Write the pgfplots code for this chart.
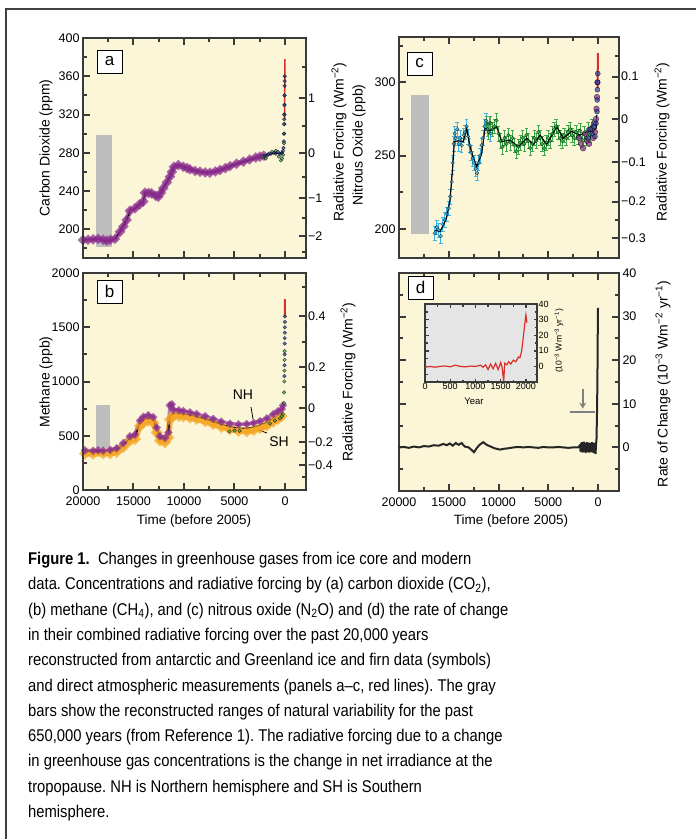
\documentclass[border=0pt]{standalone}
\usepackage{fontspec}
\setmainfont{Liberation Sans}
\newfontfamily\capfont[FakeStretch=0.87]{Liberation Sans}
\usepackage{pgfplots}
\pgfplotsset{compat=1.18}
\usetikzlibrary{arrows.meta}
\definecolor{panelbg}{HTML}{FCF6D8}
\definecolor{axisgray}{HTML}{3A3A3A}
\definecolor{bargray}{HTML}{BDBDBD}
\definecolor{gpurple}{HTML}{8A2B8E}
\definecolor{ggreen}{HTML}{3DAA4A}
\definecolor{gblue}{HTML}{2B3A9E}
\definecolor{gred}{HTML}{D8302A}
\definecolor{gcyan}{HTML}{3CB4E6}
\definecolor{gorange}{HTML}{F5A623}
\frenchspacing

\pgfplotsset{
  panel/.style={
    scale only axis,
    x dir=reverse,
    scaled ticks=false,
    axis line style={line width=2.5pt, draw=axisgray},
    tick align=inside,
    major tick length=7pt, minor tick length=4pt,
    every tick/.style={line width=2pt, draw=axisgray},
    tick label style={font=\fontsize{12.5}{14}\selectfont, text=black},
    xticklabel style={yshift=-3pt},
    /pgf/number format/assume math mode=true,
    /pgf/number format/set thousands separator={},
    xtick={0,5000,10000,15000,20000},
    minor xtick={2500,7500,12500,17500},
  },
  dots/.style={mark=*, mark size=1.8pt, mark options={draw=none, fill=#1, opacity=0.7}},
}
\tikzset{ttl/.style={font=\fontsize{14}{16}\selectfont}}

\begin{document}
\begin{tikzpicture}
\path[use as bounding box] (0,0) rectangle (696pt,-839pt);
\fill[white] (0,0) rectangle (696pt,-839pt);
\draw[line width=1.6pt, black!75] (6pt,-839pt) -- (6pt,-9pt) -- (696pt,-9pt);

% ---------- panel a: CO2
\begin{axis}[panel, at={(83pt,-258pt)}, anchor=south west, width=223pt, height=220pt,
  axis background/.style={fill=panelbg},
  xmin=-2080, xmax=20000, ymin=170, ymax=400,
  xtick pos=both, ytick pos=left, xticklabels={},
  ytick={200,240,280,320,360,400}, minor ytick={180,220,260,300,340,380}]
\addplot[fill=bargray, draw=none] coordinates {(18700,181)(17130,181)(17130,299)(18700,299)} -- cycle;
\addplot[gpurple, line width=5pt, opacity=0.6, dots=gpurple] coordinates {
(20000,188.8)(19500,189)(19000,189.5)(18500,190)(18000,189)(17650,188)(17300,189)
(16830,190)(16340,197.5)(16000,203)(15680,209.7)(15350,219.5)(14850,222)(14400,226)
(14030,229)(13860,238.3)(13500,238)(13200,237.6)(12800,235)(12540,234)(12300,238)
(12050,243)(11700,249)(11390,255)(11200,260)(11000,265.4)(10560,267.2)(10070,265.4)
(9700,264)(9410,262.7)(8900,261)(8420,260.2)(7900,259.5)(7430,259.2)(6900,260.5)
(6440,262)(5900,264)(5450,266)(4800,268.5)(4130,270.7)(3500,273)(2900,275)(2480,276)(2100,277)};
\addplot[only marks, dots=ggreen] coordinates {
(2200,276)(1900,274)(1600,279)(1300,281)(900,282)(600,276)(400,272)(300,274)
(200,278)(100,290)(80,300)(65,310)(55,320)(45,330)(35,340)};
\addplot[only marks, dots=gblue] coordinates {
(2000,277)(1700,278)(1400,279)(1100,280)(900,279)(700,281)(500,279)(300,280)
(200,282)(150,285)(120,292)(100,300)(90,310)(80,315)(70,320)(60,330)(50,340)
(40,350)(30,355)(20,360)};
\addplot[gred, line width=1.5pt] coordinates {(47,315)(40,325)(30,338)(20,352)(10,365)(0,378)};
\addplot[black, line width=1.2pt] coordinates {
(20000,188.8)(18500,190)(17650,188)(16830,190)(16340,197.5)(15680,209.7)(15350,219.5)
(14850,222)(14030,229)(13860,238.3)(13200,237.6)(12540,234)(12050,243)(11390,255)
(11000,265.4)(10560,267.2)(10070,265.4)(9410,262.7)(8420,260.2)(7430,259.2)(6440,262)
(5450,266)(4130,270.7)(2480,276)(1500,278)(1000,280)(500,279)(200,281)};
\end{axis}
\begin{axis}[panel, at={(83pt,-258pt)}, anchor=south west, width=223pt, height=220pt,
  hide x axis, xmin=-2080, xmax=20000, ymin=170, ymax=400,
  ytick pos=right, yticklabel pos=right, yticklabel style={inner sep=2pt},
  ytick={192.7,232.3,280,337.5}, yticklabels={−2,−1,0,1},
  minor ytick={175.8,211.6,255,307.5,369.7}]
\end{axis}

% ---------- panel b: CH4
\begin{axis}[panel, at={(83pt,-490pt)}, anchor=south west, width=223pt, height=217pt,
  axis background/.style={fill=panelbg},
  xmin=-2080, xmax=20000, ymin=0, ymax=2000,
  xtick pos=both, ytick pos=left,
  ytick={0,500,1000,1500,2000}, minor ytick={250,750,1250,1750}]
\addplot[fill=bargray, draw=none] coordinates {(18700,385)(17300,385)(17300,785)(18700,785)} -- cycle;
\addplot[gorange, line width=6pt, opacity=0.8, dots=gorange] coordinates {
(19800,335)(19000,335)(18000,337)(17300,338)(16670,350)(16010,395)(15350,455)(14850,470)
(14360,590)(14030,620)(13530,640)(13040,620)(12700,530)(12380,455)(11880,440)(11550,485)
(11390,650)(11060,685)(10500,683)(10070,678)(9400,668)(8750,655)(7900,633)(7100,608)
(6300,582)(5450,560)(4600,546)(3790,540)(3100,552)(2480,570)(1800,595)(1160,630)(700,655)(330,680)};
\addplot[gpurple, line width=3.5pt, opacity=0.6, dots=gpurple] coordinates {
(19800,365)(19000,362)(18500,366)(18000,362)(17300,370)(16670,385)(16010,432)(15350,495)
(14850,510)(14360,640)(14030,675)(13530,690)(13040,672)(12700,575)(12380,495)(11880,480)
(11550,530)(11400,780)(11200,790)(11060,740)(10500,735)(10070,728)(9400,715)(8750,700)
(7900,680)(7100,655)(6300,630)(5450,612)(4600,605)(3790,608)(3100,618)(2480,635)
(1800,660)(1160,700)(700,725)(330,745)(200,780)};
\addplot[only marks, dots=ggreen] coordinates {
(5500,540)(5000,548)(4500,545)(1500,612)(1000,640)(500,660)(300,680)(200,700)
(100,800)(80,900)(60,1000)(50,1100)(40,1200)(30,1280)};
\addplot[only marks, dots=gblue] coordinates {
(60,1050)(50,1150)(40,1250)(30,1350)(25,1400)(20,1450)(15,1500)(10,1550)(5,1600)};
\addplot[gred, line width=2pt] coordinates {(25,1600)(15,1660)(5,1720)(0,1760)};
\addplot[black, line width=1.2pt] coordinates {
(19800,353)(19000,352)(18000,353)(17300,355)(16670,369)(16010,415)(15350,476)(14850,491)
(14360,615)(14030,645)(13530,661)(13040,645)(12700,553)(12380,476)(11880,461)(11550,507)
(11390,676)(11060,707)(10500,705)(10070,700)(9400,690)(8750,676)(7900,655)(7100,630)
(6300,605)(5450,584)(4600,572)(3790,568)(3100,580)(2480,599)(1800,625)(1160,661)(700,685)(330,707)};
\draw[black, line width=0.8pt] (axis cs:3366,765) -- (axis cs:3168,654);
\draw[black, line width=0.8pt] (axis cs:1782,525) -- (axis cs:2574,553);
\node[font=\fontsize{14}{16}\selectfont] at (axis cs:4158,876) {NH};
\node[font=\fontsize{14}{16}\selectfont] at (axis cs:594,442) {SH};
\end{axis}
\begin{axis}[panel, at={(83pt,-490pt)}, anchor=south west, width=223pt, height=217pt,
  hide x axis, xmin=-2080, xmax=20000, ymin=0, ymax=2000,
  ytick pos=right, yticklabel pos=right, yticklabel style={inner sep=2pt},
  ytick={230,442,756,1134,1604}, yticklabels={−0.4,−0.2,0,0.2,0.4},
  minor ytick={123,341,583,952,1367,1874}]
\end{axis}

% ---------- panel c: N2O
\begin{axis}[panel, at={(399pt,-258pt)}, anchor=south west, width=220pt, height=221pt,
  axis background/.style={fill=panelbg},
  xmin=-2110, xmax=20000, ymin=180, ymax=331,
  xtick pos=both, ytick pos=left, xticklabels={},
  ytick={200,250,300}, minor ytick={225,275,325}]
\addplot[fill=bargray, draw=none] coordinates {(18790,196.4)(16990,196.4)(16990,291.4)(18790,291.4)} -- cycle;
\addplot[only marks, dots=gcyan, error bars/.cd, y dir=both, y fixed=5,
  error bar style={gcyan, line width=0.8pt}] coordinates {
(16400,197)(16200,201)(16000,199)(15800,195)(15600,203)(15400,206)(15200,210)(15000,214)
(14850,222)(14700,232)(14600,245)(14500,258)(14400,265)(14300,262)(14150,268)(14000,258)
(13850,262)(13700,257)(13500,264)(13350,266)(13200,270)(13050,263)(12900,257)(12750,252)
(12600,248)(12450,245)(12300,241)(12150,238)(12000,245)(11850,250)(11700,257)(11550,262)
(11400,270)(11250,274)(11100,268)(10950,272)(10800,265)};
\addplot[only marks, dots=ggreen, error bars/.cd, y dir=both, y fixed=5,
  error bar style={ggreen, line width=0.8pt}] coordinates {
(11200,272)(11000,266)(10800,272)(10600,268)(10400,270)(10200,274)(10000,265)(9800,260)
(9600,256)(9400,262)(9200,258)(9000,264)(8800,259)(8600,262)(8400,257)(8200,253)
(8000,256)(7800,259)(7600,262)(7400,258)(7200,264)(7000,260)(6800,255)(6600,258)
(6400,262)(6200,260)(6000,266)(5800,262)(5600,258)(5400,255)(5200,259)(5000,262)
(4800,260)(4600,265)(4400,268)(4200,270)(4000,266)(3800,262)(3600,260)(3400,264)
(3200,262)(3000,266)(2800,268)(2600,264)(2400,262)(2200,266)(2000,263)(1800,267)
(1600,261)(1400,265)(1200,262)(1000,268)(800,264)(600,270)};
\addplot[only marks, dots=gpurple, mark size=2.8pt] coordinates {
(1900,262)(1700,258)(1500,255)(1300,265)(1100,260)(900,258)(700,268)(500,262)
(400,272)(300,266)(200,275)(150,282)(100,290)(60,300)};
\addplot[only marks, dots=gblue, mark size=2.5pt] coordinates {
(1000,262)(800,268)(600,265)(400,270)(300,263)(200,272)(100,280)(80,288)(60,295)(40,300)(20,306)};
\addplot[gred, line width=2pt] coordinates {(45,296)(35,303)(25,309)(15,314)(5,318)(0,320)};
\addplot[black, line width=1.2pt] coordinates {
(16382,199)(15880,198)(15500,203)(15206,208)(14874,219.6)(14600,242.4)(14440,259.5)
(14040,260.1)(13537,259.5)(13196,268.6)(12864,256)(12500,248)(12190,242.4)(11690,251.5)
(11357,268.6)(10854,267)(10180,269.7)(9680,259.5)(8844,260.6)(8010,256)(7165,261.8)
(6500,257.5)(5830,264)(5160,257.5)(4150,269.7)(3490,261.8)(2650,266.5)(1810,264)
(1140,266)(470,266.5)(190,268.6)(130,277.7)};
\end{axis}
\begin{axis}[panel, at={(399pt,-258pt)}, anchor=south west, width=220pt, height=221pt,
  hide x axis, xmin=-2110, xmax=20000, ymin=180, ymax=331,
  ytick pos=right, yticklabel pos=right, yticklabel style={inner sep=2pt},
  ytick={193.5,218.5,245.8,274.8,303.9}, yticklabels={−0.3,−0.2,−0.1,0,0.1},
  minor ytick={206,232.1,260.1,289.1,318}]
\end{axis}

% ---------- panel d: rate of change
\begin{axis}[panel, at={(399pt,-491pt)}, anchor=south west, width=220pt, height=218pt,
  axis background/.style={fill=panelbg},
  xmin=-2110, xmax=20000, ymin=-10, ymax=40,
  xtick pos=both, ytick pos=both, yticklabel pos=right,
  ytick={0,10,20,30,40}, minor ytick={-5,5,15,25,35}]
\addplot[black!85, line width=2pt] coordinates {
(20000,0)(19500,0.1)(19000,-0.1)(18500,0.2)(18000,0)(17500,0.3)(17000,0.2)(16500,0.5)
(16000,0.4)(15550,0.8)(15200,0.5)(14900,0.9)(14600,0.4)(14300,1.0)(14000,0.6)(13700,1.0)
(13400,0.2)(13000,0)(12700,-0.6)(12460,-1.1)(12200,-0.2)(11900,0.6)(11530,1.2)(11200,0.6)
(10800,0.2)(10400,-0.2)(9850,-0.5)(9400,-0.3)(9000,-0.2)(8500,0)(8000,0.1)(7500,0)
(7000,0.1)(6500,0)(6000,-0.1)(5500,0.1)(5000,0)(4500,0)(4000,0.1)(3500,0)(3000,-0.1)
(2500,0)(2000,0)(1800,0.5)(1750,-1)(1700,1)(1650,-0.8)(1600,1.2)(1550,-1.2)(1500,0.8)
(1450,-1)(1400,1.3)(1350,-0.7)(1300,0.9)(1250,-1.3)(1200,1)(1150,-0.5)(1100,1.2)
(1050,-1)(1000,0.8)(950,-1.2)(900,1.1)(850,-0.8)(800,1)(750,-1.1)(700,0.7)(650,-0.9)
(600,1.2)(550,-1)(500,0.9)(450,-1.3)(400,1)(350,-0.6)(300,1.1)(250,-1.5)(200,0.5)
(150,2)(100,8)(60,15)(30,25)(0,32)};
\draw[gray, line width=2pt] (axis cs:2860,8.2) -- (axis cs:306,8.2);
\draw[gray, line width=2pt, -{Stealth[length=6pt,width=7pt]}] (axis cs:1530,13.4) -- (axis cs:1530,8.9);
\end{axis}

% ---------- inset
\begin{axis}[scale only axis, at={(425pt,-382pt)}, anchor=south west, width=112pt, height=78pt,
  axis background/.style={fill=black!10},
  axis line style={line width=1.6pt, draw=axisgray},
  tick align=inside, major tick length=3.5pt, minor tick length=2.5pt,
  every tick/.style={line width=1.4pt, draw=axisgray},
  tick label style={font=\fontsize{9}{10}\selectfont, text=black, inner sep=1.5pt},
  scaled ticks=false,
  /pgf/number format/assume math mode=true,
  /pgf/number format/set thousands separator={},
  xmin=0, xmax=2220, ymin=-10, ymax=40,
  xtick={0,500,1000,1500,2000}, minor xtick={250,750,1250,1750},
  xtick pos=both, ytick pos=both, yticklabel pos=right,
  ytick={0,10,20,30,40}, minor ytick={-5,5,15,25,35}]
\addplot[gred, line width=1.2pt] coordinates {
(0,-0.5)(100,0)(200,-0.5)(300,0)(400,0.3)(500,-0.3)(600,0.8)(700,0)(800,-0.3)(900,0.2)
(1000,0)(1100,0.8)(1150,-0.5)(1200,1)(1250,-2)(1300,1.5)(1350,-1.5)(1400,2)(1450,-2)
(1500,2.5)(1530,-1)(1560,-9.5)(1580,2)(1620,1)(1660,3)(1700,1.5)(1750,4)(1800,3)
(1850,6)(1881,5.5)(1914,9.7)(1935,15)(1960,22)(1980,28)(2000,33)(2020,28)};
\end{axis}

% ---------- panel letters
\foreach \l/\x/\y in {a/109.5/61.5, b/109.5/291.5, c/419.5/63.5, d/420.5/287.5}
  \node[draw=black, line width=0.9pt, fill=white, minimum width=25pt, minimum height=23pt,
        inner sep=0pt, font=\fontsize{17}{19}\selectfont] at (\x pt,-\y pt) {\l};

% ---------- axis titles
\node[rotate=90, ttl] at (46pt,-148pt) {Carbon Dioxide (ppm)};
\node[rotate=90, ttl] at (339pt,-142pt) {Radiative Forcing (Wm\textsuperscript{−2})};
\node[rotate=90, ttl] at (359pt,-145pt) {Nitrous Oxide (ppb)};
\node[rotate=90, ttl] at (662pt,-142pt) {Radiative Forcing (Wm\textsuperscript{−2})};
\node[rotate=90, ttl] at (46pt,-382pt) {Methane (ppb)};
\node[rotate=90, ttl] at (348pt,-382pt) {Radiative Forcing (Wm\textsuperscript{−2})};
\node[rotate=90, ttl] at (663pt,-384pt) {Rate of Change (10\textsuperscript{−3} Wm\textsuperscript{−2} yr\textsuperscript{−1})};
\node[font=\fontsize{13.5}{15}\selectfont] at (194pt,-521pt) {Time (before 2005)};
\node[font=\fontsize{13.5}{15}\selectfont] at (511pt,-521pt) {Time (before 2005)};
\node[font=\fontsize{9.5}{10}\selectfont] at (474pt,-401pt) {Year};
\node[rotate=90, font=\fontsize{8.5}{10}\selectfont] at (559pt,-341pt) {(10\textsuperscript{−3} Wm\textsuperscript{−3} yr\textsuperscript{−1})};

% ---------- caption
\node[anchor=north west, align=left, inner sep=0pt,
      font=\capfont\fontsize{17}{25.3}\selectfont] at (28pt,-552pt) {%
\textbf{Figure 1.}\ \ Changes in greenhouse gases from ice core and modern\\
data. Concentrations and radiative forcing by (a) carbon dioxide (CO\textsubscript{2}),\\
(b) methane (CH\textsubscript{4}), and (c) nitrous oxide (N\textsubscript{2}O) and (d) the rate of change\\
in their combined radiative forcing over the past 20,000 years\\
reconstructed from antarctic and Greenland ice and firn data (symbols)\\
and direct atmospheric measurements (panels a–c, red lines). The gray\\
bars show the reconstructed ranges of natural variability for the past\\
650,000 years (from Reference 1). The radiative forcing due to a change\\
in greenhouse gas concentrations is the change in net irradiance at the\\
tropopause. NH is Northern hemisphere and SH is Southern\\
hemisphere.};
\end{tikzpicture}
\end{document}
